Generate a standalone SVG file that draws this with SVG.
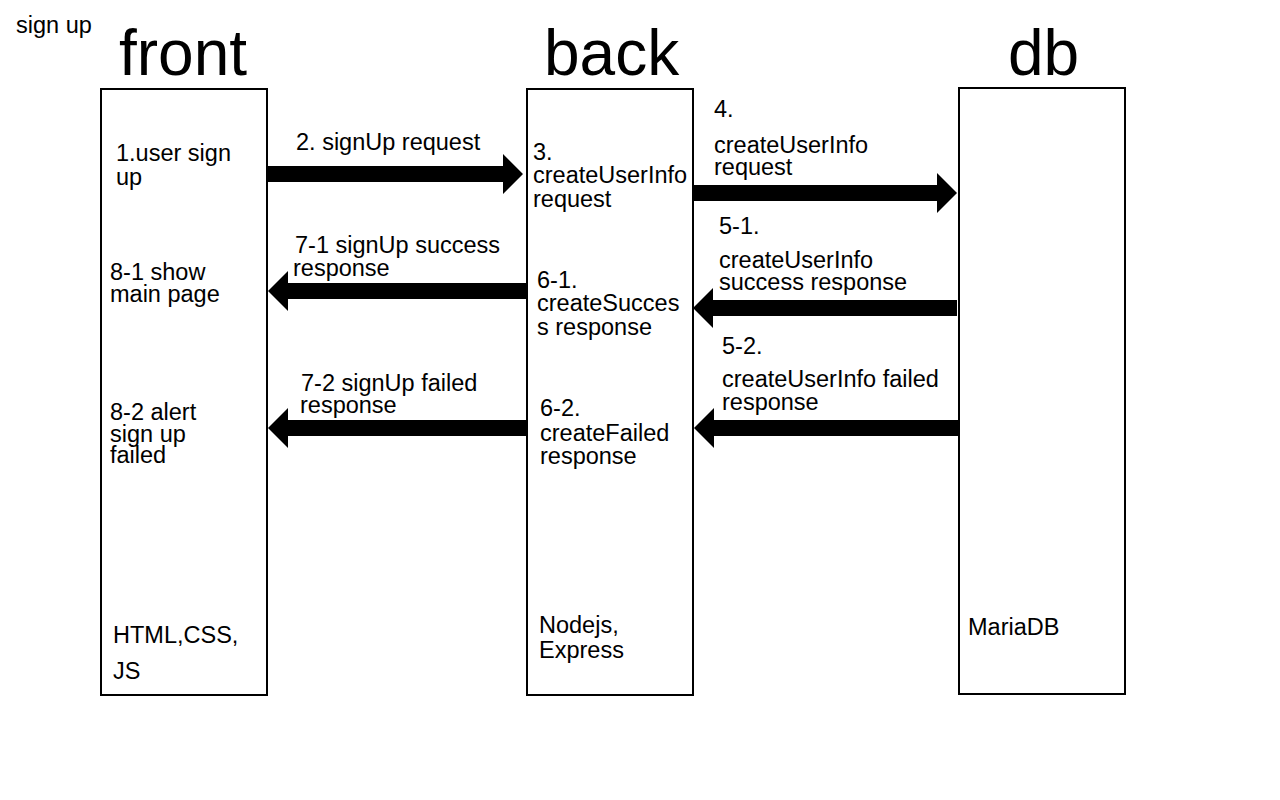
<svg xmlns="http://www.w3.org/2000/svg" width="1280" height="800" viewBox="0 0 1280 800">
<style>
  text { font-family: "Liberation Sans", Arial, sans-serif; fill: #000; }
  .t { font-size: 23.5px; }
  .title { font-size: 64px; }
  .box { fill: #fff; stroke: #000; stroke-width: 2; }
  .arrow { fill: #000; stroke: none; }
</style>
<rect x="0" y="0" width="1280" height="800" fill="#fff"/>
<text class="t" x="16" y="33">sign up</text>

<g id="front">
  <text class="title" x="119" y="75">front</text>
  <rect class="box" x="101" y="89" width="166" height="606"/>
  <text class="t" x="116" y="161">1.user sign</text>
  <text class="t" x="116" y="185">up</text>
  <text class="t" x="110" y="280">8-1 show</text>
  <text class="t" x="110" y="302">main page</text>
  <text class="t" x="110" y="420">8-2 alert</text>
  <text class="t" x="110" y="442">sign up</text>
  <text class="t" x="110" y="463">failed</text>
  <text class="t" x="113" y="643">HTML,CSS,</text>
  <text class="t" x="113" y="679">JS</text>
</g>

<g id="back">
  <text class="title" x="544" y="75">back</text>
  <rect class="box" x="527" y="89" width="166" height="606"/>
  <text class="t" x="533" y="160">3.</text>
  <text class="t" x="533" y="183">createUserInfo</text>
  <text class="t" x="533" y="207">request</text>
  <text class="t" x="537" y="288">6-1.</text>
  <text class="t" x="537" y="311">createSucces</text>
  <text class="t" x="537" y="335">s response</text>
  <text class="t" x="540" y="416">6-2.</text>
  <text class="t" x="540" y="441">createFailed</text>
  <text class="t" x="540" y="464">response</text>
  <text class="t" x="539" y="633">Nodejs,</text>
  <text class="t" x="539" y="658">Express</text>
</g>

<g id="db">
  <text class="title" x="1008" y="75">db</text>
  <rect class="box" x="959" y="88" width="166" height="606"/>
  <text class="t" x="968" y="635">MariaDB</text>
</g>

<g id="connectors">
  <polygon class="arrow" points="267,166 503,166 503,154 523,174 503,194 503,182 267,182"/>
  <polygon class="arrow" points="693,185 937,185 937,173 957,193 937,213 937,201 693,201"/>
  <polygon class="arrow" points="957,300 713,300 713,288 693,308 713,328 713,316 957,316"/>
  <polygon class="arrow" points="526,283 288,283 288,271 268,291 288,311 288,299 526,299"/>
  <polygon class="arrow" points="958,420 714,420 714,408 694,428 714,448 714,436 958,436"/>
  <polygon class="arrow" points="526,420 288,420 288,408 268,428 288,448 288,436 526,436"/>
  <text class="t" x="296" y="150">2. signUp request</text>
  <text class="t" x="714" y="117">4.</text>
  <text class="t" x="714" y="153">createUserInfo</text>
  <text class="t" x="714" y="175">request</text>
  <text class="t" x="719" y="234">5-1.</text>
  <text class="t" x="719" y="268">createUserInfo</text>
  <text class="t" x="719" y="290">success response</text>
  <text class="t" x="722" y="354">5-2.</text>
  <text class="t" x="722" y="387">createUserInfo failed</text>
  <text class="t" x="722" y="410">response</text>
  <text class="t" x="295" y="253">7-1 signUp success</text>
  <text class="t" x="293" y="276">response</text>
  <text class="t" x="301" y="391">7-2 signUp failed</text>
  <text class="t" x="300" y="413">response</text>
</g>
</svg>
